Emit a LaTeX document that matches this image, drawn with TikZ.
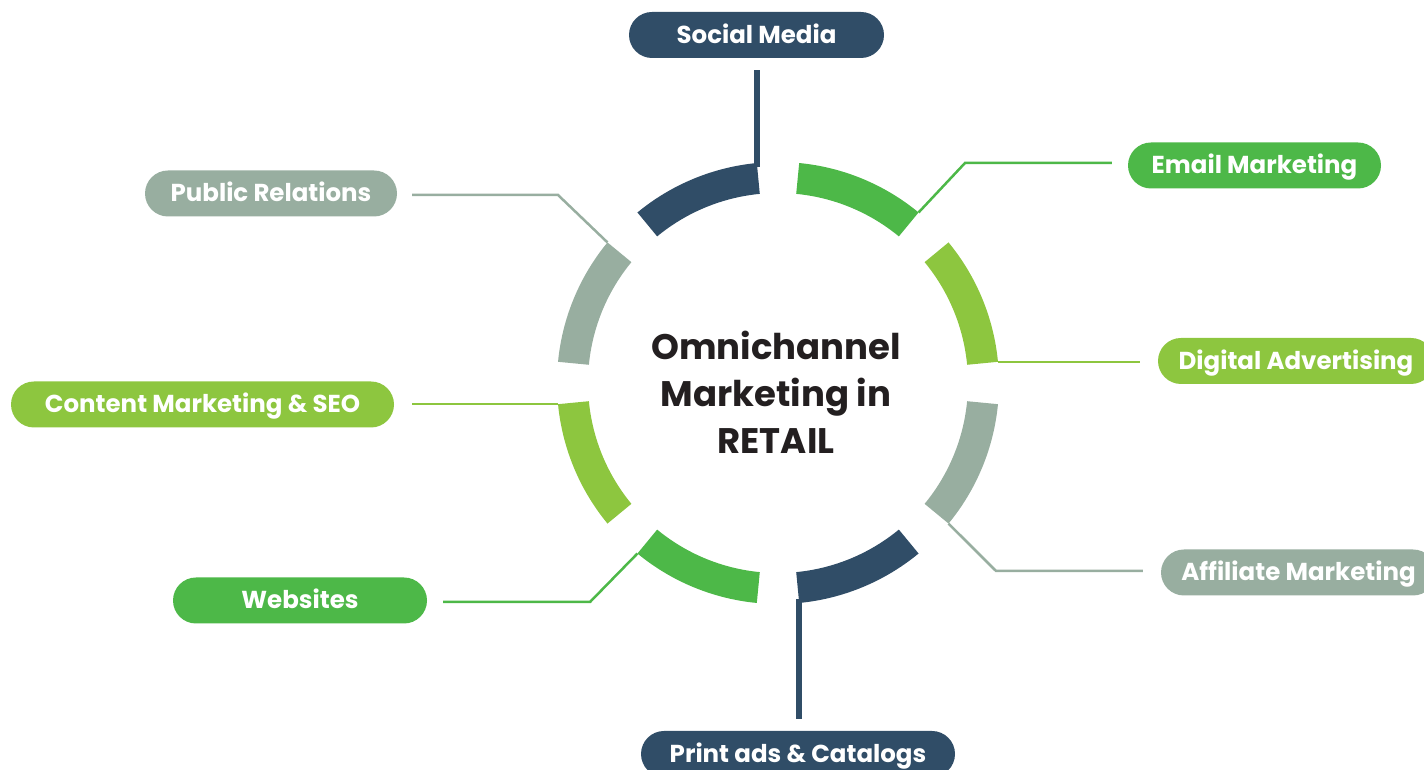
\documentclass[tikz,border=0pt]{standalone}
\usepackage{fontspec}
\setmainfont{Poppins}
\usetikzlibrary{calc}
\definecolor{navy}{HTML}{304D67}
\definecolor{grn}{HTML}{4DB848}
\definecolor{lgrn}{HTML}{8DC63F}
\definecolor{gry}{HTML}{98AEA0}
\definecolor{ink}{HTML}{231F20}
\newcommand{\ringseg}[3]{%
  \fill[#1] ($(C)+(#2:221pt)$) arc[start angle=#2, end angle=#3, radius=221pt]
    -- ($(C)+(#3:190pt)$) arc[start angle=#3, end angle=#2, radius=190pt] -- cycle;}
\begin{document}
\begin{tikzpicture}[x=1pt,y=1pt,
  pill/.style={rounded corners=23pt, minimum height=46pt, inner sep=0pt, text=white,
    text height=17pt, text depth=0pt,
    font=\bfseries\fontsize{24.5}{28}\selectfont},
  thinlink/.style={line width=2.5pt},
  thicklink/.style={line width=6pt}]
\useasboundingbox (0,0) rectangle (1424,770);
\coordinate (C) at (778,387);
% ring segments
\ringseg{navy}{95.5}{129.5}
\ringseg{gry}{140.5}{174.5}
\ringseg{lgrn}{185.5}{219.5}
\ringseg{grn}{230.5}{264.5}
\ringseg{navy}{275.5}{309.5}
\ringseg{gry}{320.5}{354.5}
\ringseg{lgrn}{5.5}{39.5}
\ringseg{grn}{50.5}{84.5}
% segment end points
\coordinate (sSocial) at ($(C)+(95.5:221pt)$);
\coordinate (sPublic) at ($(C)+(140.5:221pt)$);
\coordinate (sContent) at ($(C)+(185.5:221pt)$);
\coordinate (sWeb) at ($(C)+(230.5:221pt)$);
\coordinate (sPrint) at ($(C)+(275.5:221pt)$);
\coordinate (sAff) at ($(C)+(320.5:221pt)$);
\coordinate (sDigital) at ($(C)+(5.5:221pt)$);
\coordinate (sEmail) at ($(C)+(50.5:221pt)$);
% pills
\node[pill, fill=navy, minimum width=255pt] (social) at (756.5,735) {Social Media};
\node[pill, fill=grn, minimum width=253pt] (email) at (1254.5,604.5) {Email Marketing};
\node[pill, fill=lgrn, minimum width=276pt] (digital) at (1296,409) {Digital Advertising};
\node[pill, fill=gry, minimum width=275pt] (aff) at (1298.5,197.5) {Affiliate Marketing};
\node[pill, fill=navy, minimum width=314pt] (print) at (798,16) {Print ads \& Catalogs};
\node[pill, fill=grn, minimum width=254pt] (web) at (300,169.5) {Websites};
\node[pill, fill=lgrn, minimum width=383pt] (content) at (202.5,365.5) {Content Marketing \& SEO};
\node[pill, fill=gry, minimum width=252pt] (public) at (271,576.5) {Public Relations};
% center
\node[text=ink, align=center, font=\bfseries\fontsize{35.5}{47}\selectfont] (center) at (776,378)
  {Omnichannel\\Marketing in\\RETAIL};
% connectors
\draw[thicklink, navy] ([yshift=-4pt]sSocial) -- ([yshift=-12pt]social.south -| sSocial);
\draw[thicklink, navy] ([yshift=4pt]sPrint) -- ([yshift=12pt]print.north -| sPrint);
\coordinate (bEmail) at (965,607);
\draw[thinlink, grn] (sEmail) -- (bEmail) -- ([xshift=-16pt]email.west |- bEmail);
\coordinate (bPublic) at (558,575);
\draw[thinlink, gry] (sPublic) -- (bPublic) -- ([xshift=15pt]public.east |- bPublic);
\coordinate (bWeb) at (590,168);
\draw[thinlink, grn] (sWeb) -- (bWeb) -- ([xshift=16pt]web.east |- bWeb);
\coordinate (bAff) at (996,199);
\draw[thinlink, gry] (sAff) -- (bAff) -- ([xshift=-18pt]aff.west |- bAff);
\draw[thinlink, lgrn] (sDigital) -- ([xshift=-18pt]digital.west |- sDigital);
\draw[thinlink, lgrn] (sContent) -- ([xshift=18pt]content.east |- sContent);
\end{tikzpicture}
\end{document}
